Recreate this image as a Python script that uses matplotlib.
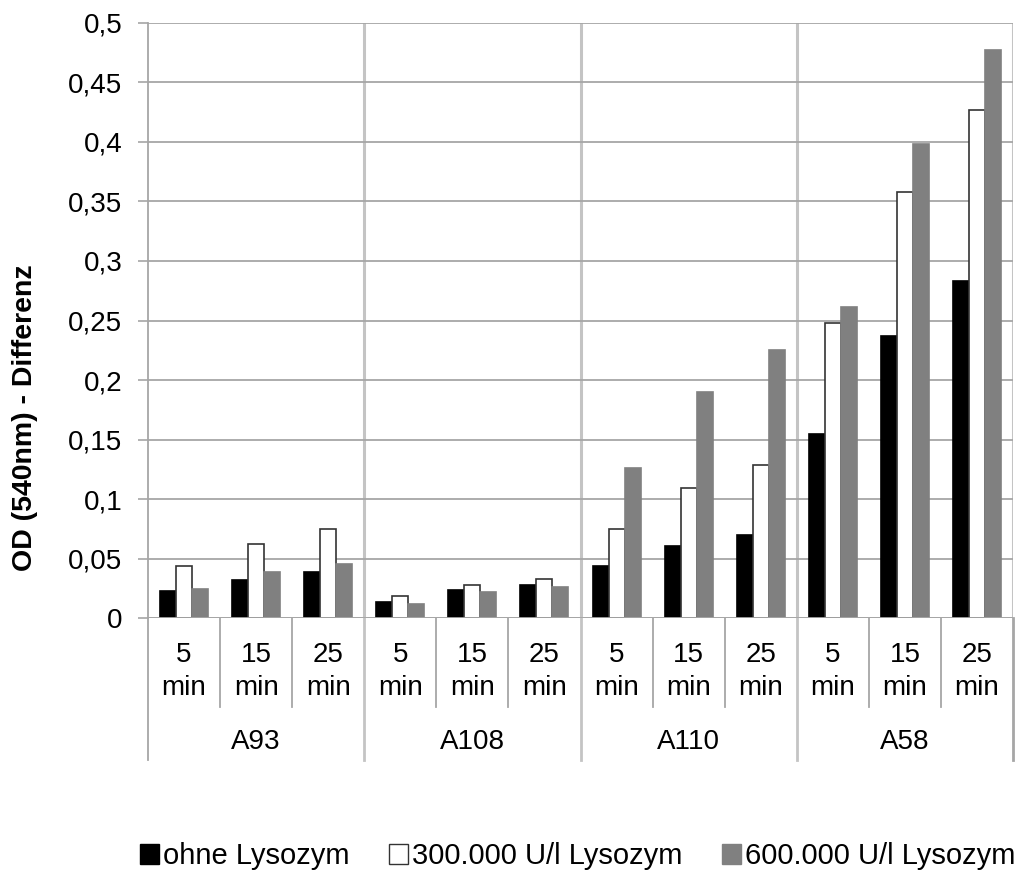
#!/usr/bin/env python3
"""Grouped bar chart of OD(540nm) differences per strain and incubation time."""

import matplotlib

matplotlib.use('Agg')
import matplotlib.pyplot as plt
import numpy as np
from matplotlib.patches import Patch
from matplotlib.ticker import FuncFormatter
from matplotlib.transforms import blended_transform_factory

plt.rcParams['font.family'] = ['Liberation Sans', 'DejaVu Sans']

STRAINS = ['A93', 'A108', 'A110', 'A58']
TIMES = ['5', '15', '25']
SERIES = ['ohne Lysozym', '300.000 U/l Lysozym', '600.000 U/l Lysozym']

# one value per (strain, time), strains in the order above
ohne = [0.023, 0.032, 0.039,
        0.014, 0.024, 0.028,
        0.044, 0.061, 0.070,
        0.155, 0.237, 0.283]
lyso_300 = [0.044, 0.062, 0.075,
            0.019, 0.028, 0.033,
            0.075, 0.109, 0.129,
            0.248, 0.358, 0.427]
lyso_600 = [0.025, 0.039, 0.046,
            0.012, 0.022, 0.026,
            0.126, 0.190, 0.225,
            0.261, 0.398, 0.477]

FACES = ['#000000', '#ffffff', '#808080']
EDGES = ['#000000', '#333333', '#808080']
GRID = '#a6a6a6'
SEP = '#c4c4c4'

fig = plt.figure(figsize=(10.19, 8.73), dpi=100)
ax = fig.add_axes([0.1452, 0.2917, 0.8490, 0.6823])

n_cat = len(STRAINS) * len(TIMES)
x = np.arange(n_cat)
width = 0.222
for i, (vals, face, edge) in enumerate(zip([ohne, lyso_300, lyso_600], FACES, EDGES)):
    ax.bar(x + (i - 1) * width, vals, width, color=face, edgecolor=edge,
           linewidth=1.2, zorder=3, label=SERIES[i])

ax.set_xlim(-0.5, n_cat - 0.5)
ax.set_ylim(0, 0.5)
ax.set_yticks(np.arange(0, 0.501, 0.05))
ax.yaxis.set_major_formatter(FuncFormatter(
    lambda v, _: ('%.2f' % v).rstrip('0').rstrip('.').replace('.', ',')))
ax.tick_params(axis='y', labelsize=20, length=7.5, width=1.2, color=GRID, pad=11)
ax.set_xticks([])
ax.grid(axis='y', color=GRID, linewidth=1.3, zorder=0)

for side in ['top', 'right', 'bottom']:
    ax.spines[side].set_visible(False)
ax.spines['left'].set_color(GRID)
ax.spines['left'].set_linewidth(1.3)
ax.axhline(0, color=GRID, linewidth=1.3, zorder=4)

# group separators inside the plot
for b in range(1, len(STRAINS)):
    ax.axvline(b * len(TIMES) - 0.5, color=SEP, linewidth=2.2, zorder=1)
ax.axvline(n_cat - 0.5, color=SEP, linewidth=2.2, zorder=1)

# two-level category axis below the plot
trans = blended_transform_factory(ax.transData, ax.transAxes)
for k in range(n_cat + 1):
    edge_x = k - 0.5
    is_group = k % len(TIMES) == 0
    y_end = -0.238 if is_group else -0.148
    col = GRID if k in (0, n_cat) or not is_group else SEP
    ax.plot([edge_x, edge_x], [0, y_end], transform=trans, color=col,
            linewidth=1.3 if not is_group or k == 0 else 2.0, clip_on=False)

for k in range(n_cat):
    t = TIMES[k % len(TIMES)]
    ax.text(k, -0.062, t, transform=trans, ha='center', va='center', fontsize=20)
    ax.text(k, -0.117, 'min', transform=trans, ha='center', va='center', fontsize=20)

for g, name in enumerate(STRAINS):
    ax.text(g * len(TIMES) + 1, -0.2075, name, transform=trans,
            ha='center', va='center', fontsize=20)

fig.text(0.025, 0.521, 'OD (540nm) - Differenz', rotation=90, ha='center',
         va='center', fontsize=20.5, fontweight='bold')

handles = [Patch(facecolor=f, edgecolor=e, linewidth=1.0) for f, e in zip(FACES, EDGES)]
fig.legend(handles, SERIES, loc='center', bbox_to_anchor=(0.567, 0.019), ncol=3,
           frameon=False, fontsize=21, handlelength=0.65, handleheight=0.65,
           handletextpad=0.15, columnspacing=1.35, borderaxespad=0)

fig.savefig('out.png', dpi=100)
